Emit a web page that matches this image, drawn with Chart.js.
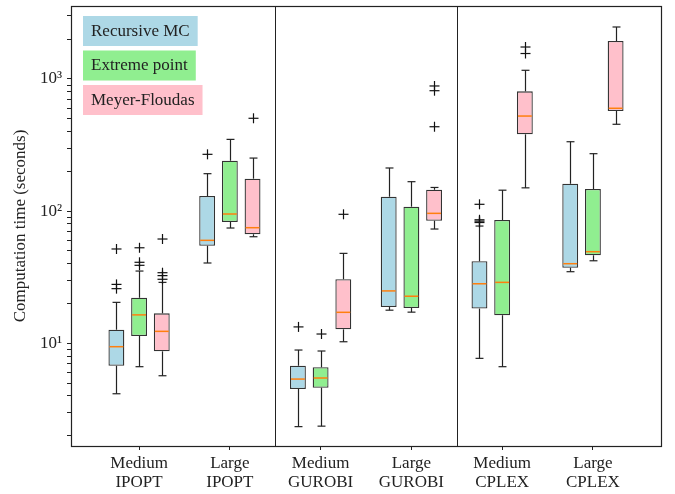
<!DOCTYPE html>
<html>
<head>
<meta charset="utf-8">
<script src="https://cdn.jsdelivr.net/npm/chart.js@4.4.0/dist/chart.umd.min.js"></script>
<style>
  body { margin: 0; background: #fff; }
</style>
</head>
<body>
<canvas id="myChart" width="675" height="494"></canvas>
<script>
// categories (solver / instance size)
const categories = [['Medium', 'IPOPT'], ['Large', 'IPOPT'], ['Medium', 'GUROBI'], ['Large', 'GUROBI'], ['Medium', 'CPLEX'], ['Large', 'CPLEX']];
const seriesNames = ['Recursive MC', 'Extreme point', 'Meyer-Floudas'];
const seriesColors = ['#add8e6', '#90ee90', '#ffc0cb'];

// box stats per category: [whisker low, q1, median, q3, whisker high]
const recursiveMC = [[4.15, 6.76, 9.42, 12.66, 20.4], [40.5, 54.7, 60.1, 130, 192], [2.34, 4.51, 5.36, 6.76, 8.89], [17.8, 18.8, 24.9, 128.5, 212], [7.69, 18.3, 28.2, 41.7, 77.1], [34.8, 37.3, 40.0, 161, 335]];
const extremePoint = [[6.65, 11.35, 16.4, 22.1, 35.2], [74.5, 82.7, 95.1, 240.6, 349], [2.36, 4.61, 5.46, 6.58, 8.74], [17.2, 18.5, 22.7, 108, 167], [6.65, 16.3, 28.9, 85.7, 144], [42.1, 46.3, 49.3, 147, 272]];
const meyerFloudas = [[5.68, 8.69, 12.31, 16.85, 28.9], [64.0, 66.8, 74.9, 176, 252], [10.27, 12.75, 17.15, 30.5, 47.9], [73.2, 84.6, 96.2, 145, 151], [150, 381, 524, 806, 1163], [454, 572, 600, 1937, 2473]];

// fliers
const recursiveMCOut = [[25.9, 27.9, 51.7], [269], [13.3], [], [82, 84, 86, 112.6], []];
const extremePointOut = [[38.9, 41.0, 52.8], [], [11.75], [], [], []];
const meyerFloudasOut = [[30.5, 32.5, 34.2, 61.5], [504], [94.6], [435, 815, 885], [1558, 1745], []];

// axis ticks
const xTicks = [1, 2, 3, 4, 5, 6];
const separators = [2.5, 4.5];
const yMajor = [10, 100, 1000];
const yMajorLabels = ['10\u00b9', '10\u00b2', '10\u00b3'];
const yMinorTicks = [2, 3, 4, 5, 6, 7, 8, 9, 20, 30, 40, 50, 60, 70, 80, 90, 200, 300, 400, 500, 600, 700, 800, 900, 2000, 3000];

const stats = [recursiveMC, extremePoint, meyerFloudas];
const fliers = [recursiveMCOut, extremePointOut, meyerFloudasOut];

Chart.defaults.font.family = "'Liberation Serif', serif";
Chart.defaults.font.size = 17;
Chart.defaults.color = '#222';

function line(ctx, x1, y1, x2, y2) {
    ctx.beginPath();
    ctx.moveTo(x1, y1);
    ctx.lineTo(x2, y2);
    ctx.stroke();
}

const boxExtras = {
    id: 'boxExtras',
    afterDatasetsDraw(chart) {
        const ctx = chart.ctx;
        const ys = chart.scales.y;
        const xs = chart.scales.x;
        const area = chart.chartArea;
        ctx.save();
        ctx.strokeStyle = '#222';
        ctx.lineWidth = 1;
        separators.forEach(function(s) {
            const px = Math.round(xs.getPixelForValue(s)) + 0.5;
            line(ctx, px, area.top, px, area.bottom);
        });
        stats.forEach(function(series, i) {
            const meta = chart.getDatasetMeta(i);
            series.forEach(function(st, j) {
                const bar = meta.data[j];
                const cx = Math.round(bar.x) + 0.5;
                const w = bar.width;
                const p = st.map(v => ys.getPixelForValue(v));
                ctx.strokeStyle = '#222';
                ctx.lineWidth = 1.2;
                // whiskers and caps
                line(ctx, cx, p[1], cx, p[0]);
                line(ctx, cx, p[3], cx, p[4]);
                line(ctx, cx - w / 4, p[0], cx + w / 4, p[0]);
                line(ctx, cx - w / 4, p[4], cx + w / 4, p[4]);
                // median
                ctx.strokeStyle = '#ff7f0e';
                ctx.lineWidth = 1.5;
                line(ctx, bar.x - w / 2 + 1, p[2], bar.x + w / 2 - 1, p[2]);
                // fliers
                ctx.strokeStyle = '#111';
                ctx.lineWidth = 1.2;
                fliers[i][j].forEach(function(v) {
                    const py = ys.getPixelForValue(v);
                    line(ctx, cx - 5, py, cx + 5, py);
                    line(ctx, cx, py - 5, cx, py + 5);
                });
            });
        });
        ctx.restore();
    },
    afterDraw(chart) {
        const ctx = chart.ctx;
        const area = chart.chartArea;
        ctx.save();
        ctx.strokeStyle = '#222';
        ctx.lineWidth = 1.2;
        ctx.strokeRect(Math.round(area.left) + 0.5, Math.round(area.top) + 0.5, Math.round(area.right - area.left), Math.round(area.bottom - area.top));
        // legend: text on coloured patches
        ctx.font = "17px 'Liberation Serif', serif";
        ctx.textBaseline = 'middle';
        ctx.fillStyle = '#222';
        let top = area.top + 10;
        seriesNames.forEach(function(name, i) {
            const tw = ctx.measureText(name).width;
            ctx.fillStyle = seriesColors[i];
            ctx.fillRect(area.left + 12, top, tw + 16, 30);
            ctx.fillStyle = '#222';
            ctx.fillText(name, area.left + 20, top + 15.5);
            top += 34.5;
        });
        ctx.restore();
    }
};

function createChart(ctx) {
    const datasets = stats.map(function(series, i) {
        return {
            label: seriesNames[i],
            data: series.map((st, j) => ({x: xTicks[j], y: [st[1], st[3]]})),
            backgroundColor: seriesColors[i],
            borderColor: '#333',
            borderWidth: 1.3,
            borderSkipped: false,
            categoryPercentage: 0.75,
            barPercentage: 0.7
        };
    });
    return new Chart(ctx, {
        type: 'bar',
        data: { datasets: datasets },
        options: {
            responsive: false,
            animation: false,
            layout: { padding: { top: 6, right: 14, left: 0, bottom: 0 } },
            plugins: { legend: { display: false }, tooltip: { enabled: false } },
            scales: {
                x: {
                    type: 'linear',
                    min: 0.25,
                    max: 6.75,
                    offset: false,
                    grid: { offset: false, drawOnChartArea: false, tickLength: 4, color: '#222' },
                    border: { display: false },
                    afterBuildTicks: function(scale) { scale.ticks = xTicks.map(v => ({value: v})); },
                    afterFit: function(scale) { scale.height = 48; scale.paddingLeft = 0; scale.paddingRight = 0; },
                    ticks: {
                        autoSkip: false,
                        maxRotation: 0,
                        padding: 4,
                        font: { lineHeight: 1.1 },
                        callback: function(v) { return categories[xTicks.indexOf(v)]; }
                    }
                },
                y: {
                    type: 'logarithmic',
                    min: 1.67,
                    max: 3565,
                    beginAtZero: false,
                    grid: { drawOnChartArea: false, tickLength: 4, color: '#222' },
                    border: { display: false },
                    afterBuildTicks: function(scale) {
                        scale.ticks = yMinorTicks.concat(yMajor).sort((a, b) => a - b).map(v => ({value: v}));
                    },
                    afterFit: function(scale) { scale.width = 71; scale.paddingTop = 0; scale.paddingBottom = 0; },
                    ticks: {
                        autoSkip: false,
                        padding: 5,
                        callback: function(v) {
                            const k = yMajor.indexOf(v);
                            return k >= 0 ? yMajorLabels[k] : '';
                        }
                    },
                    title: {
                        display: true,
                        text: 'Computation time (seconds)',
                        padding: { top: 10, bottom: 0 }
                    }
                }
            }
        },
        plugins: [boxExtras]
    });
}

window.addEventListener('load', function() {
    const ctx = document.getElementById('myChart').getContext('2d');
    createChart(ctx);
});
</script>
</body>
</html>
